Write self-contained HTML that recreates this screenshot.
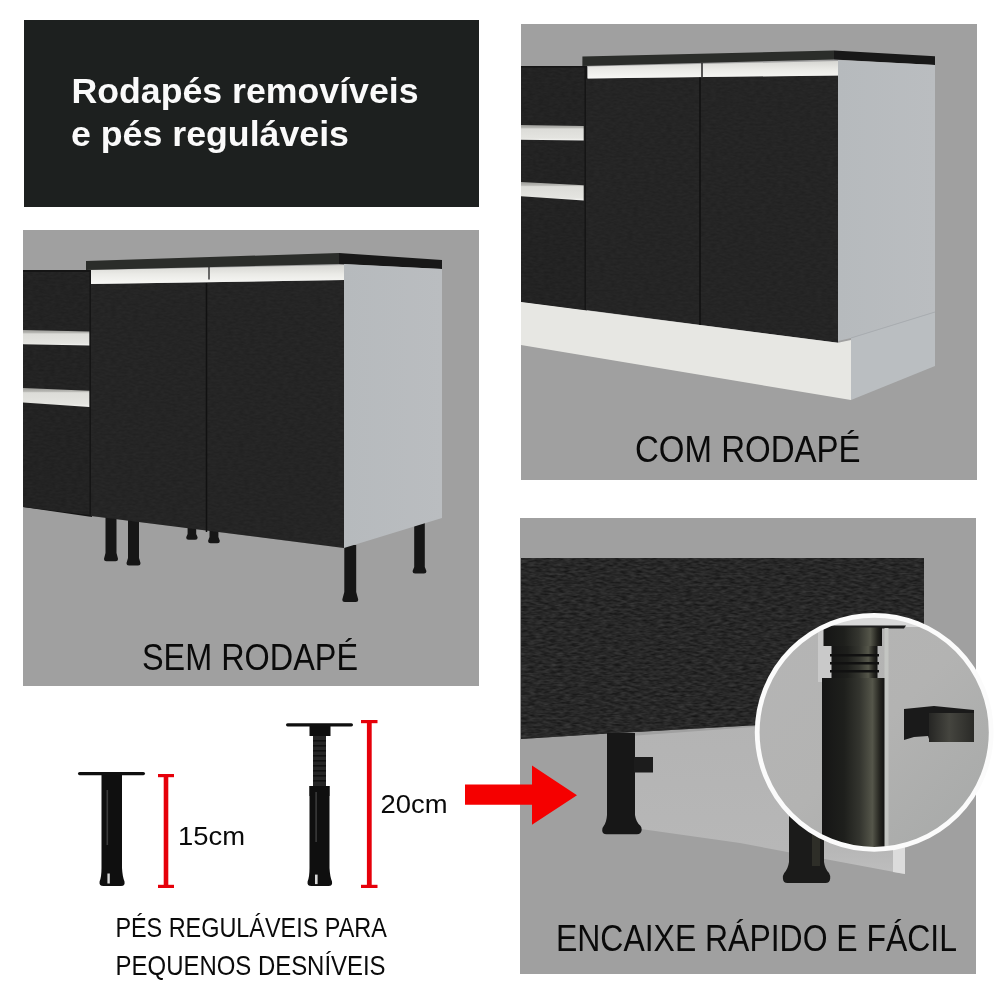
<!DOCTYPE html>
<html><head><meta charset="utf-8">
<style>
html,body{margin:0;padding:0;background:#fff;}
body{width:1000px;height:1000px;overflow:hidden;font-family:"Liberation Sans",sans-serif;}
svg{display:block;will-change:transform;}
text{font-family:"Liberation Sans",sans-serif;}
</style></head><body>
<svg width="1000" height="1000" viewBox="0 0 1000 1000">
<defs>
  <linearGradient id="strip" x1="0" y1="0" x2="0" y2="1">
    <stop offset="0" stop-color="#d6d6d2"/><stop offset="0.5" stop-color="#ebebe7"/><stop offset="1" stop-color="#f7f7f5"/>
  </linearGradient>
  <linearGradient id="side" x1="0" y1="0" x2="1" y2="0">
    <stop offset="0" stop-color="#b6babd"/><stop offset="1" stop-color="#babdc0"/>
  </linearGradient>
  <linearGradient id="plinthD" x1="0" y1="0" x2="0" y2="1">
    <stop offset="0" stop-color="#b3b3b3"/><stop offset="0.85" stop-color="#b7b7b7"/><stop offset="1" stop-color="#bebebe"/>
  </linearGradient>
  <linearGradient id="circBg" x1="0" y1="0" x2="1" y2="1">
    <stop offset="0" stop-color="#b5b5b5"/><stop offset="0.5" stop-color="#b3b3b2"/><stop offset="1" stop-color="#a6a8a7"/>
  </linearGradient>
  <linearGradient id="tube" x1="0" y1="0" x2="1" y2="0">
    <stop offset="0" stop-color="#151515"/><stop offset="0.35" stop-color="#1e1f1c"/><stop offset="0.6" stop-color="#34352f"/><stop offset="0.8" stop-color="#55564a"/><stop offset="0.92" stop-color="#24241f"/><stop offset="1" stop-color="#101010"/>
  </linearGradient>
  <linearGradient id="clipF" x1="0" y1="0" x2="1" y2="0">
    <stop offset="0" stop-color="#262624"/><stop offset="0.45" stop-color="#45453f"/><stop offset="1" stop-color="#2a2a27"/>
  </linearGradient>
  <clipPath id="circClip"><circle cx="874.2" cy="732.3" r="116"/></clipPath>
  <linearGradient id="dh" x1="0" y1="0" x2="0" y2="1">
    <stop offset="0" stop-color="#9c9c98"/><stop offset="0.18" stop-color="#b8b8b4"/><stop offset="0.25" stop-color="#dcdcd8"/><stop offset="0.85" stop-color="#e4e4e0"/><stop offset="1" stop-color="#f4f4f2"/>
  </linearGradient>
  <filter id="grain" x="0" y="0" width="100%" height="100%" color-interpolation-filters="sRGB">
    <feTurbulence type="fractalNoise" baseFrequency="0.14 0.45" numOctaves="2" seed="7" result="n"/>
    <feColorMatrix in="n" type="matrix" values="0.32 0 0 0 0  0.32 0 0 0 0  0.32 0 0 0 0  0 0 0 0 0.6" result="a"/>
    <feComposite in="a" in2="SourceAlpha" operator="in"/>
  </filter>
  <filter id="grain2" x="0" y="0" width="100%" height="100%" color-interpolation-filters="sRGB">
    <feTurbulence type="fractalNoise" baseFrequency="0.18 0.5" numOctaves="2" seed="3" result="n"/>
    <feColorMatrix in="n" type="matrix" values="0.28 0 0 0 0  0.28 0 0 0 0  0.28 0 0 0 0  0 0 0 0 0.16" result="a"/>
    <feComposite in="a" in2="SourceAlpha" operator="in"/>
  </filter>
</defs>
<rect width="1000" height="1000" fill="#fff"/>

<!-- Title box -->
<rect x="24" y="20" width="455" height="187" fill="#1d201f"/>
<text x="71.5" y="103.3" font-size="35" font-weight="bold" fill="#fafafa" textLength="347" lengthAdjust="spacingAndGlyphs">Rodapés removíveis</text>
<text x="71" y="145.8" font-size="35" font-weight="bold" fill="#fafafa" textLength="278" lengthAdjust="spacingAndGlyphs">e pés reguláveis</text>

<!-- Panel B: SEM RODAPE -->
<g id="panelB">
<rect x="23" y="230" width="456" height="456" fill="#a0a0a0"/>
<!-- legs -->
<g>
<path d="M105.5,512 H116.5 V553 L118.0,558.7 Q118.0,561.2 115.5,561.2 H106.5 Q104.0,561.2 104.0,558.7 L105.5,553 Z" fill="#161616"/>
<path d="M128,516 H139 V558 L140.5,562.9 Q140.5,565.4 138.0,565.4 H129.0 Q126.5,565.4 126.5,562.9 L128,558 Z" fill="#161616"/>
<path d="M187.6,524 H196.2 V534 L197.6,537.3 Q197.6,539.8 195.1,539.8 H188.7 Q186.2,539.8 186.2,537.3 L187.6,534 Z" fill="#161616"/>
<path d="M209.5,528 H218.4 V537 L219.8,540.7 Q219.8,543.2 217.3,543.2 H210.6 Q208.1,543.2 208.1,540.7 L209.5,537 Z" fill="#161616"/>
<path d="M344.3,545 H356.2 V592 L358.2,599.5 Q358.2,602 355.7,602 H344.8 Q342.3,602 342.3,599.5 L344.3,592 Z" fill="#161616"/>
<path d="M414.2,518 H424.8 V567 L426.40000000000003,571.1 Q426.40000000000003,573.6 423.90000000000003,573.6 H415.09999999999997 Q412.59999999999997,573.6 412.59999999999997,571.1 L414.2,567 Z" fill="#161616"/>
</g>
<!-- left drawer cabinet -->
<polygon points="23,270 92,270 92,517 23,507" fill="#151515"/>
<polygon points="23,272 89.5,272 89.5,515 23,507" fill="#232323"/>
<polygon points="23,272 89.5,272 89.5,515 23,507" fill="#fff" filter="url(#grain2)"/>
<polygon points="23,330 89.3,331.4 89.3,345.6 23,344.2" fill="url(#dh)"/>
<polygon points="23,388 89.3,390.8 89.3,407 23,402.6" fill="url(#dh)"/>
<!-- doors -->
<polygon points="91,284 344,280 344,548 91,516" fill="#252525"/>
<polygon points="91,284 344,280 344,548 91,516" fill="#fff" filter="url(#grain2)"/>
<line x1="206.5" y1="283" x2="206.5" y2="532" stroke="#111" stroke-width="1.5"/>
<!-- handle strip -->
<polygon points="91,270 344,265 344,280 91,284" fill="url(#strip)"/>
<line x1="209" y1="267" x2="209" y2="279.5" stroke="#222" stroke-width="1.3"/>
<!-- countertop -->
<polygon points="86,261 339,253 339,264 86,270" fill="#2b2d2a"/>
<polygon points="339,253 442,260 442,269 339,264" fill="#181818"/>
<!-- side panel -->
<polygon points="344,264 442,269 442,518 344,548" fill="url(#side)"/>
<text x="142" y="669.8" font-size="36" fill="#0a0a0a" textLength="216" lengthAdjust="spacingAndGlyphs">SEM RODAPÉ</text>
</g>

<!-- Panel C: COM RODAPE -->
<g id="panelC">
<rect x="521" y="24" width="456" height="456" fill="#a0a0a0"/>
<polygon points="521,66 587,66 587,311 521,302" fill="#151515"/>
<polygon points="521,67.6 584.5,67.6 584.5,310 521,302" fill="#232323"/>
<polygon points="521,67.6 584.5,67.6 584.5,310 521,302" fill="#fff" filter="url(#grain2)"/>
<polygon points="521,125 583.7,125.9 583.7,140.5 521,139.7" fill="url(#dh)"/>
<polygon points="521,182 583.7,185.3 583.7,200.5 521,196.2" fill="url(#dh)"/>
<polygon points="586,78.4 838,75.5 838,342.8 586,310" fill="#252525"/>
<polygon points="586,78.4 838,75.5 838,342.8 586,310" fill="#fff" filter="url(#grain2)"/>
<line x1="700" y1="77" x2="700" y2="325" stroke="#111" stroke-width="1.5"/>
<polygon points="588,66.4 838,61 838,75.5 588,78.4" fill="url(#strip)"/>
<line x1="702" y1="63" x2="702" y2="77" stroke="#222" stroke-width="1.5"/>
<polygon points="582.4,56.4 834,50.5 834,59.5 582.4,66" fill="#2b2d2a"/>
<polygon points="834,50.5 935,56.3 935,65 834,59.5" fill="#181818"/>
<polygon points="838,60 935,65 935,312 851,338 838,341" fill="url(#side)"/>
<!-- plinth -->
<polygon points="521,302 838,342.8 851,340 851,400 521,345" fill="#e7e7e3"/>
<polygon points="851,338 935,312 935,366 851,400" fill="#babec1"/>
<line x1="851" y1="338" x2="935" y2="312" stroke="#a9adb1" stroke-width="1"/>
<text x="635" y="461.6" font-size="36" fill="#0a0a0a" textLength="225.5" lengthAdjust="spacingAndGlyphs">COM RODAPÉ</text>
</g>

<!-- Panel D: ENCAIXE -->
<g id="panelD">
<rect x="520" y="518" width="456" height="456" fill="#a0a0a0"/>
<!-- plinth behind -->
<polygon points="630,736 905,716 905,874 740,843 641,829 630,829" fill="url(#plinthD)"/>
<polygon points="893,716 905,716 905,874 893,872" fill="#dcdcdc"/>
<!-- board -->
<polygon points="521,558 924,558 924,715 760,725 600,734 521,739" fill="#262626"/>
<polygon points="521,558 924,558 924,715 760,725 600,734 521,739" fill="#fff" filter="url(#grain)" opacity="1"/>
<!-- leg 1 -->
<path d="M607,733 H635 V815 Q636,822 640.2,825.5 Q642,827.5 641.6,830.5 Q641,834.2 637,834.2 H606.5 Q602.2,834.2 602.2,830.5 Q602.2,827.5 604,825.5 Q606.5,822 607,815 Z" fill="#171717"/>
<rect x="634" y="757" width="19" height="15.5" fill="#1c1c1c"/>
<!-- leg 2 -->
<path d="M789,800 H824 V862 Q825,869 829,873 Q830.5,875.5 830.2,878.5 Q829.8,883 825.5,883 H787.5 Q783.2,883 782.9,878.5 Q782.6,875.5 784.2,873 Q788,869 789,862 Z" fill="#1b1b1a"/>
<rect x="812" y="800" width="8" height="66" fill="#2e2e28"/>
<!-- circle -->
<circle cx="874.2" cy="732.3" r="117" fill="url(#circBg)"/>
<g clip-path="url(#circClip)">
  <rect x="750" y="610" width="250" height="17" fill="#d9d9d9"/>
  <rect x="818" y="627" width="16" height="55" fill="#c9c9c9"/>
  <polygon points="818,625.5 906,625.5 904,628.5 821,628.5" fill="#1e1e1e"/>
  <rect x="823.5" y="627.5" width="58.5" height="18.5" fill="url(#tube)"/>
  <rect x="831.5" y="646" width="46" height="32" fill="url(#tube)"/>
  <g fill="#111">
    <rect x="830" y="654" width="49" height="2.5"/>
    <rect x="830" y="662" width="49" height="2.5"/>
    <rect x="830" y="670" width="49" height="2.5"/>
  </g>
  <rect x="822" y="678" width="63" height="180" fill="url(#tube)"/>
  <rect x="884.5" y="628" width="4" height="230" fill="#c3c5c2"/>
  <path d="M904,709 L934,706 L974,710 L974,741 L930,742 L928,736 L914,737 L904,740z" fill="#1a1a1a"/>
  <rect x="929" y="713" width="45" height="29" fill="url(#clipF)"/>
</g>
<circle cx="874.2" cy="732.3" r="117" fill="none" stroke="#fbfbfb" stroke-width="4.8"/>
<text x="556" y="951" font-size="36.5" fill="#0a0a0a" textLength="401" lengthAdjust="spacingAndGlyphs">ENCAIXE RÁPIDO E FÁCIL</text>
</g>

<!-- Arrow -->
<path d="M465,784.5 H532 V765.6 L577,795.2 L532,824.8 V804.8 H465z" fill="#f50000"/>

<!-- adjustable legs -->
<g fill="#0f0f0f">
  <rect x="78" y="771.9" width="67" height="3.3" rx="1.6"/>
  <path d="M101.5,775 H122 V868 Q122.5,877 124.5,881.5 Q125.3,886 121,886 H103.5 Q98.8,886 99.6,881.5 Q101.5,877 101.5,868 Z"/>
  <rect x="286" y="723.2" width="67" height="3.2" rx="1.6"/>
  <rect x="309.5" y="726" width="21" height="10"/>
  <rect x="309.5" y="786" width="20" height="10"/>
  <path d="M309.5,786 H329.5 V868 Q330,877 332,881.5 Q332.8,886 328.5,886 H311.5 Q306.8,886 307.6,881.5 Q309.5,877 309.5,868 Z"/>
</g>
<rect x="313" y="736" width="13" height="50" fill="#262626"/>
<g fill="#111">
  <rect x="313" y="740" width="13" height="1.6"/><rect x="313" y="745" width="13" height="1.6"/><rect x="313" y="750" width="13" height="1.6"/>
  <rect x="313" y="755" width="13" height="1.6"/><rect x="313" y="760" width="13" height="1.6"/><rect x="313" y="765" width="13" height="1.6"/>
  <rect x="313" y="770" width="13" height="1.6"/><rect x="313" y="775" width="13" height="1.6"/><rect x="313" y="780" width="13" height="1.6"/>
</g>
<g fill="#3a3a3a">
  <rect x="106.5" y="790" width="1.6" height="55"/>
  <rect x="315.3" y="792" width="1.6" height="50"/>
</g>
<g fill="#d8d8d8">
  <rect x="107.4" y="873.5" width="2.4" height="10"/>
  <rect x="315" y="874.6" width="2.6" height="9.5"/>
</g>
<g fill="#e6000a">
  <rect x="163.7" y="774" width="4.6" height="114"/>
  <rect x="158" y="774" width="16" height="3.2"/>
  <rect x="158" y="884.8" width="16" height="3.2"/>
  <rect x="366.9" y="720" width="4.8" height="168"/>
  <rect x="361" y="720" width="16.5" height="3.2"/>
  <rect x="361" y="884.8" width="16.5" height="3.2"/>
</g>
<text x="178" y="844.6" font-size="25.5" fill="#0a0a0a" textLength="67" lengthAdjust="spacingAndGlyphs">15cm</text>
<text x="380.5" y="812.7" font-size="25.5" fill="#0a0a0a" textLength="67" lengthAdjust="spacingAndGlyphs">20cm</text>
<text x="115.4" y="936.9" font-size="28.5" fill="#0a0a0a" textLength="271.4" lengthAdjust="spacingAndGlyphs">PÉS REGULÁVEIS PARA</text>
<text x="115.6" y="974.7" font-size="28.5" fill="#0a0a0a" textLength="270" lengthAdjust="spacingAndGlyphs">PEQUENOS DESNÍVEIS</text>
</svg>
</body></html>
